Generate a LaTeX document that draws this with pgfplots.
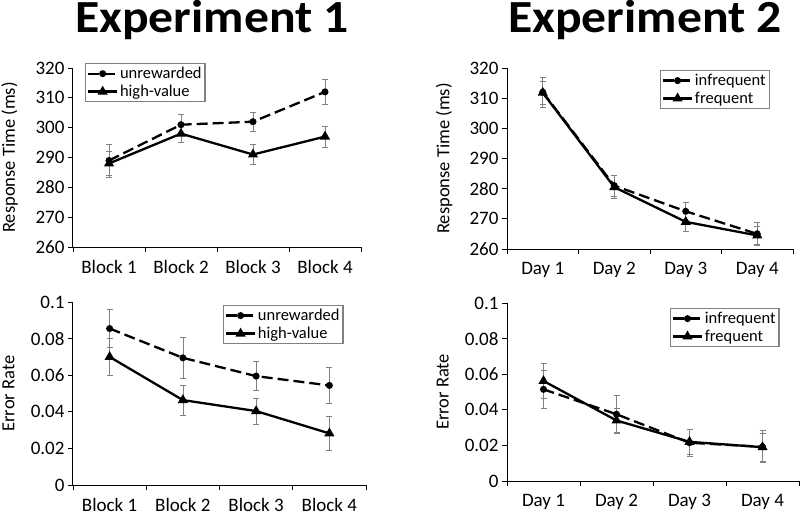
\documentclass[border=0pt]{standalone}
\usepackage{fontspec}
\setmainfont{Carlito}
\usepackage{pgfplots}
\usepackage{pgfplotstable}
\pgfplotsset{compat=1.18}

\pgfplotstableread{
x y e
1 289 5.5
2 301 3.4
3 302 3.3
4 312 4.1
}\rtAu
\pgfplotstableread{
x y e
1 288 4
2 298 3
3 291 3.4
4 297 3.6
}\rtAh
\pgfplotstableread{
x y e
1 312 5
2 281 3.5
3 272.5 3
4 265 3.8
}\rtBi
\pgfplotstableread{
x y e
1 311.8 3.8
2 280.5 3.8
3 269 3
4 264.5 3
}\rtBf
\pgfplotstableread{
x y e
1 0.0855 0.0105
2 0.0695 0.011
3 0.0595 0.008
4 0.0544 0.0097
}\erAu
\pgfplotstableread{
x y e
1 0.070 0.010
2 0.0464 0.0083
3 0.0404 0.0071
4 0.0282 0.0093
}\erAh
\pgfplotstableread{
x y e
1 0.0515 0.0105
2 0.0375 0.0105
3 0.0215 0.0075
4 0.0192 0.009
}\erBi
\pgfplotstableread{
x y e
1 0.0562 0.0097
2 0.0340 0.0068
3 0.0220 0.007
4 0.0190 0.008
}\erBf

\pgfplotsset{
  panel/.style={
    scale only axis,
    axis lines=left,
    axis line style={-, black, line width=1pt},
    xmin=0.5, xmax=4.5,
    xtick={0.5,1.5,2.5,3.5,4.5},
    xticklabels={},
    extra x ticks={1,2,3,4},
    extra x tick style={major tick length=0pt, tick label style={yshift=-10pt}},
    tick align=outside,
    major tick length=5pt,
    tick style={black, line width=0.9pt},
    tick label style={font=\fontsize{19}{21}\selectfont},
    label style={font=\fontsize{18.5}{21}\selectfont},
    ylabel style={at={(axis description cs:-0.22,0.5)}, anchor=center},
    legend cell align=left,
    legend style={font=\fontsize{16.5}{18}\selectfont, draw=gray, line width=1.4pt,
      inner sep=1.5pt, row sep=1pt, anchor=north west},
    legend image code/.code={%
      \draw[mark repeat=2,mark phase=2] plot coordinates {(0cm,0cm)(0.5cm,0cm)(1cm,0cm)};},
    /pgf/number format/assume math mode=true,
    scaled y ticks=false,
    clip=false,
  },
  ebar/.style={error bars/.cd, y dir=both, y explicit,
    error bar style={draw=gray, line width=0.7pt, solid},
    error mark options={rotate=90, draw=gray, mark size=3pt, line width=0.7pt, solid}},
  dser/.style={black, line width=2.3pt, dash pattern=on 11pt off 5pt,
    mark=*, mark size=2.3pt, mark options={solid, fill=black}},
  sser/.style={black, line width=2.3pt, solid,
    mark=triangle*, mark size=3.6pt, mark options={solid, fill=black}},
}

\begin{document}
\begin{tikzpicture}
\useasboundingbox (0,0) rectangle (800pt,515pt);

\node[anchor=base, inner sep=0pt, font=\fontsize{46}{48}\selectfont\bfseries] at (212pt,482pt) {\scalebox{1.08}[1]{Experiment 1}};
\node[anchor=base, inner sep=0pt, font=\fontsize{46}{48}\selectfont\bfseries] at (645pt,482pt) {\scalebox{1.08}[1]{Experiment 2}};

% Panel 1
\begin{axis}[panel, at={(73pt,268pt)}, anchor=south west, width=288pt, height=179pt,
  ymin=260, ymax=320, ytick={260,270,280,290,300,310,320},
  extra x tick labels={Block 1,Block 2,Block 3,Block 4},
  ylabel={Response Time (ms)},
  legend style={at={(axis description cs:0.042,1.028)}}]
\addplot[dser, ebar] table[x=x, y=y, y error=e] {\rtAu};
\addlegendentry{unrewarded}
\addplot[sser, ebar] table[x=x, y=y, y error=e] {\rtAh};
\addlegendentry{high-value}
\end{axis}

% Panel 2
\begin{axis}[panel, at={(507pt,266pt)}, anchor=south west, width=286pt, height=181pt,
  ymin=260, ymax=320, ytick={260,270,280,290,300,310,320},
  extra x tick labels={Day 1,Day 2,Day 3,Day 4},
  ylabel={Response Time (ms)},
  legend style={at={(axis description cs:0.535,0.989)}}]
\addplot[dser, ebar] table[x=x, y=y, y error=e] {\rtBi};
\addlegendentry{infrequent}
\addplot[sser, ebar] table[x=x, y=y, y error=e] {\rtBf};
\addlegendentry{frequent}
\end{axis}

% Panel 3
\begin{axis}[panel, at={(73pt,30pt)}, anchor=south west, width=293pt, height=183pt,
  ymin=0, ymax=0.1, ytick={0,0.02,0.04,0.06,0.08,0.1},
  yticklabels={0,0.02,0.04,0.06,0.08,0.1},
  extra x tick labels={Block 1,Block 2,Block 3,Block 4},
  ylabel={Error Rate},
  legend style={at={(axis description cs:0.512,0.984)}}]
\addplot[dser, ebar] table[x=x, y=y, y error=e] {\erAu};
\addlegendentry{unrewarded}
\addplot[sser, ebar] table[x=x, y=y, y error=e] {\erAh};
\addlegendentry{high-value}
\end{axis}

% Panel 4
\begin{axis}[panel, at={(507pt,34pt)}, anchor=south west, width=292pt, height=178pt,
  ymin=0, ymax=0.1, ytick={0,0.02,0.04,0.06,0.08,0.1},
  yticklabels={0,0.02,0.04,0.06,0.08,0.1},
  extra x tick labels={Day 1,Day 2,Day 3,Day 4},
  ylabel={Error Rate},
  legend style={at={(axis description cs:0.558,0.972)}}]
\addplot[dser, ebar] table[x=x, y=y, y error=e] {\erBi};
\addlegendentry{infrequent}
\addplot[sser, ebar] table[x=x, y=y, y error=e] {\erBf};
\addlegendentry{frequent}
\end{axis}
\end{tikzpicture}
\end{document}
